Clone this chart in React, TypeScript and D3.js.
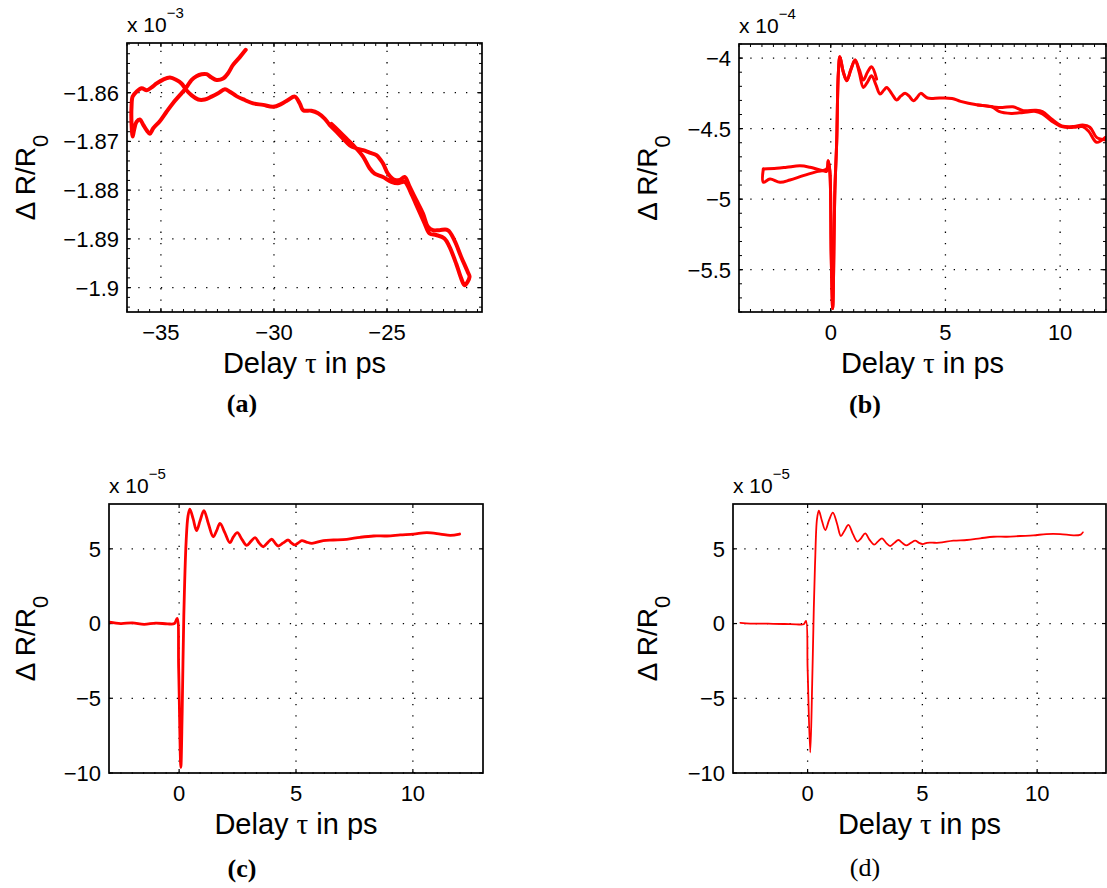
import React from "react";
import * as d3 from "d3";

// ---------- Panel (a) : ×1e-3 ----------
const aX = [-31.25,-31.51,-31.81,-32.03,-32.25,-32.54,-32.76,-32.98,-33.20,-33.43,-33.65,-33.87,-34.16,-34.46,-34.75,-35.04,-35.34,-35.49,-35.63,-35.78,-35.93,-36.08,-36.19,-36.25,
  -36.30,-36.30,-36.25,-36.08,-35.85,-35.63,-35.41,-35.19,-34.90,-34.60,-34.31,-34.09,-33.87,-33.65,-33.35,-33.06,-32.76,-32.47,-32.17,-31.95,-31.66,-31.29,-30.92,-30.48,-30.04,-29.67,-29.38,-29.08,-28.86,-28.71,-28.35,-28.05,-27.76,-27.54,-27.24,-26.95,-26.65,-26.36,
  -26.06,-25.77,-25.47,-25.18,-24.96,-24.66,-24.44,-24.22,-24.00,-23.71,-23.41,-23.19,-22.97,-22.68,-22.31,-22.02,-21.72,-21.43,-21.35,
  -21.57,-21.72,-21.94,-22.24,-22.46,-22.83,-23.12,-23.34,-23.63,-23.93,-24.22,-24.52,-24.81,-25.18,-25.55,-25.77,-26.06,-26.43,-26.80,-27.17,-27.46];
const aY = [-1.8512,-1.8527,-1.8543,-1.8560,-1.8571,-1.8574,-1.8569,-1.8562,-1.8562,-1.8566,-1.8574,-1.8589,-1.8605,-1.8621,-1.8639,-1.8658,-1.8673,-1.8684,-1.8677,-1.8666,-1.8655,-1.8660,-1.8677,-1.8690,
  -1.8663,-1.8629,-1.8608,-1.8598,-1.8591,-1.8595,-1.8589,-1.8581,-1.8573,-1.8569,-1.8574,-1.8581,-1.8595,-1.8605,-1.8614,-1.8614,-1.8608,-1.8601,-1.8593,-1.8598,-1.8607,-1.8615,-1.8622,-1.8625,-1.8629,-1.8623,-1.8615,-1.8608,-1.8622,-1.8636,-1.8637,-1.8642,-1.8653,-1.8666,-1.8680,-1.8694,-1.8708,-1.8714,
  -1.8718,-1.8723,-1.8728,-1.8745,-1.8766,-1.8779,-1.8779,-1.8773,-1.8793,-1.8820,-1.8848,-1.8875,-1.8882,-1.8882,-1.8882,-1.8903,-1.8937,-1.8968,-1.8978,
  -1.8995,-1.8981,-1.8951,-1.8916,-1.8899,-1.8892,-1.8889,-1.8868,-1.8838,-1.8807,-1.8783,-1.8786,-1.8783,-1.8773,-1.8766,-1.8755,-1.8731,-1.8711,-1.8694,-1.8677,-1.8664];

// ---------- Panel (b) : ×1e-4 ----------
const b1X = [-2.94,-2.94,-2.65,-2.21,-1.78,-1.20,-0.61,-0.18,-0.11,-0.04,0.02,0.085,0.18,0.26,0.33,0.40,0.55,0.70,0.88,1.06,1.24,1.42,1.60,1.78,1.97,2.15,2.30,2.44,2.65,2.87,3.05,3.24,3.42,3.60,3.76,3.92,4.22,4.75,5.29,5.66,6.42,7.03,7.33,7.87,8.40,8.93,9.23,9.61,10.07,10.60,10.98,11.25,11.59,11.97];
const b1Y = [-4.786,-4.880,-4.857,-4.880,-4.864,-4.833,-4.805,-4.786,-4.727,-4.80,-5.40,-5.776,-4.94,-4.59,-4.11,-3.99,-4.10,-4.16,-4.08,-4.014,-4.10,-4.208,-4.17,-4.125,-4.19,-4.255,-4.23,-4.208,-4.25,-4.297,-4.27,-4.25,-4.27,-4.302,-4.28,-4.25,-4.283,-4.283,-4.286,-4.307,-4.333,-4.345,-4.378,-4.392,-4.385,-4.378,-4.396,-4.444,-4.486,-4.491,-4.486,-4.52,-4.597,-4.562];
const b2X = [-2.94,-2.36,-1.92,-1.34,-0.905,-0.47,-0.18,-0.11,-0.04,0.02,0.085,0.18,0.26,0.33,0.40,0.55,0.70,0.88,1.06,1.24,1.42,1.60,1.78,2.0];
const b2Y = [-4.786,-4.781,-4.774,-4.764,-4.774,-4.793,-4.802,-4.727,-4.80,-5.40,-5.776,-4.94,-4.59,-4.11,-3.99,-4.10,-4.16,-4.08,-4.014,-4.08,-4.156,-4.10,-4.062,-4.149];
const b3X = [6.42,7.03,7.49,7.94,8.40,8.93,9.23,9.61,10.07,10.60,10.98,11.30,11.59,11.97];
const b3Y = [-4.333,-4.345,-4.350,-4.345,-4.373,-4.370,-4.380,-4.430,-4.480,-4.485,-4.475,-4.490,-4.562,-4.580];

// ---------- Panel (c) : ×1e-5 ----------
const cX = [-2.98,-2.5,-2.0,-1.5,-1.0,-0.5,-0.2,-0.085,-0.02,0.073,0.13,0.2,0.3,0.38,0.459,0.6,0.746,0.9,1.06,1.25,1.46,1.6,1.75,1.95,2.17,2.32,2.49,2.7,2.89,3.07,3.25,3.42,3.60,3.78,3.96,4.1,4.24,4.45,4.67,4.8,4.95,5.1,5.25,5.45,5.68,6.17,6.6,7.17,7.74,8.32,8.89,9.46,10.03,10.6,11.17,11.6,12.0];
const cY = [0.1,0.0,0.05,-0.05,0.03,-0.02,0.0,0.34,-3.0,-9.62,-6.0,0.5,5.5,7.2,7.65,7.0,6.22,6.9,7.56,6.7,5.81,6.2,6.71,6.1,5.41,5.8,6.08,5.6,5.23,5.5,5.75,5.4,5.14,5.4,5.64,5.4,5.19,5.4,5.59,5.4,5.26,5.4,5.55,5.45,5.37,5.55,5.59,5.64,5.77,5.86,5.86,5.93,5.99,6.08,5.99,5.9,5.99];

// ---------- Panel (d) : ×1e-5 ----------
const dX = [-2.93,-2.5,-2.0,-1.5,-1.0,-0.5,-0.17,-0.07,0.0,0.115,0.2,0.27,0.33,0.41,0.49,0.62,0.77,0.93,1.10,1.28,1.45,1.6,1.78,1.97,2.17,2.33,2.51,2.7,2.90,3.07,3.24,3.42,3.60,3.78,3.96,4.12,4.29,4.5,4.69,4.85,5.02,5.2,5.41,5.74,6.35,6.94,7.52,8.1,8.68,9.26,9.84,10.4,11.0,11.58,11.9,11.99];
const dY = [0.05,0.0,0.0,-0.02,-0.03,-0.05,-0.05,0.18,-3.0,-8.62,-4.0,1.0,4.25,7.0,7.56,6.9,6.26,6.9,7.42,6.7,5.86,6.2,6.6,6.0,5.48,5.7,6.04,5.6,5.28,5.5,5.7,5.4,5.19,5.4,5.59,5.4,5.23,5.4,5.55,5.4,5.32,5.4,5.41,5.41,5.55,5.59,5.70,5.81,5.81,5.86,5.9,5.99,5.99,5.9,5.95,6.1];

// ---------- Ticks & labels ----------
const aXTicks = [-35, -30, -25];
const aYTicks = [-1.9, -1.89, -1.88, -1.87, -1.86];
const bXTicks = [0, 5, 10];
const bYTicks = [-5.5, -5, -4.5, -4];
const cdXTicks = [0, 5, 10];
const cdYTicks = [-10, -5, 0, 5];
const exponents = ["−3", "−4", "−5", "−5"];
const captions = ["(a)", "(b)", "(c)", "(d)"];
const xLabelParts = ["Delay ", "τ", " in ps"];
const yLabelParts = ["Δ R/R", "0"];

const SANS = "'Liberation Sans', Arial, Helvetica, sans-serif";
const SERIF = "'Liberation Serif', 'Times New Roman', serif";
const RED = "#ff0000";

type Trace = { x: number[]; y: number[] };
type Spec = {
  id: string;
  left: number; top: number; right: number; bottom: number;
  xDomain: [number, number]; yDomain: [number, number];
  xTicks: number[]; yTicks: number[];
  xMinor?: number; yMinor?: number;
  traces: Trace[];
  lineWidth: number;
  exponent: string;
  yLabelX: number;
  caption: string; captionX: number; captionY: number; captionBold: boolean;
};

const fmt = (v: number) => String(v).replace("-", "−");

function minorValues(domain: [number, number], step: number) {
  const k0 = Math.ceil(domain[0] / step - 1e-9);
  const k1 = Math.floor(domain[1] / step + 1e-9);
  return d3.range(k0, k1 + 1).map((k) => k * step);
}

function Panel({ s }: { s: Spec }) {
  const x = d3.scaleLinear().domain(s.xDomain).range([s.left, s.right]);
  const y = d3.scaleLinear().domain(s.yDomain).range([s.bottom, s.top]);
  const line = d3
    .line<[number, number]>()
    .x((d) => x(d[0]))
    .y((d) => y(d[1]))
    .curve(d3.curveCatmullRom.alpha(0.5));
  const w = s.right - s.left;
  const h = s.bottom - s.top;
  const tl = 4;
  const xMinor = s.xMinor ? minorValues(s.xDomain, s.xMinor) : [];
  const yMinor = s.yMinor ? minorValues(s.yDomain, s.yMinor) : [];
  return (
    <g>
      <defs>
        <clipPath id={`clip-${s.id}`}>
          <rect x={s.left} y={s.top} width={w} height={h} />
        </clipPath>
      </defs>
      <rect x={s.left} y={s.top} width={w} height={h} fill="#fff" />
      {s.xTicks.map((t) => (
        <line key={`gx${t}`} x1={x(t)} x2={x(t)} y1={s.bottom} y2={s.top} stroke="#000" strokeWidth={1.3} strokeDasharray="1.3 10" />
      ))}
      {s.yTicks.map((t) => (
        <line key={`gy${t}`} x1={s.left} x2={s.right} y1={y(t)} y2={y(t)} stroke="#000" strokeWidth={1.3} strokeDasharray="1.3 10" />
      ))}
      {xMinor.map((t, i) => (
        <g key={`mx${i}`}>
          <line x1={x(t)} x2={x(t)} y1={s.bottom} y2={s.bottom - 3} stroke="#000" strokeWidth={1} />
          <line x1={x(t)} x2={x(t)} y1={s.top} y2={s.top + 3} stroke="#000" strokeWidth={1} />
        </g>
      ))}
      {yMinor.map((t, i) => (
        <g key={`my${i}`}>
          <line x1={s.left} x2={s.left + 3} y1={y(t)} y2={y(t)} stroke="#000" strokeWidth={1} />
          <line x1={s.right} x2={s.right - 3} y1={y(t)} y2={y(t)} stroke="#000" strokeWidth={1} />
        </g>
      ))}
      {s.xTicks.map((t) => (
        <g key={`tx${t}`}>
          <line x1={x(t)} x2={x(t)} y1={s.bottom} y2={s.bottom - tl} stroke="#000" strokeWidth={1.2} />
          <line x1={x(t)} x2={x(t)} y1={s.top} y2={s.top + tl} stroke="#000" strokeWidth={1.2} />
        </g>
      ))}
      {s.yTicks.map((t) => (
        <g key={`ty${t}`}>
          <line x1={s.left} x2={s.left + tl} y1={y(t)} y2={y(t)} stroke="#000" strokeWidth={1.2} />
          <line x1={s.right} x2={s.right - tl} y1={y(t)} y2={y(t)} stroke="#000" strokeWidth={1.2} />
        </g>
      ))}
      <g clipPath={`url(#clip-${s.id})`}>
        {s.traces.map((tr, i) => (
          <path
            key={i}
            d={line(tr.x.map((v, j) => [v, tr.y[j]] as [number, number])) || ""}
            fill="none"
            stroke={RED}
            strokeWidth={s.lineWidth}
            strokeLinejoin="round"
            strokeLinecap="round"
          />
        ))}
      </g>
      <rect x={s.left} y={s.top} width={w} height={h} fill="none" stroke="#000" strokeWidth={1.7} />
      {s.xTicks.map((t) => (
        <text key={`lx${t}`} x={x(t)} y={s.bottom + 28} textAnchor="middle" fontFamily={SANS} fontSize={22}>
          {fmt(t)}
        </text>
      ))}
      {s.yTicks.map((t) => (
        <text key={`ly${t}`} x={s.left - 8} y={y(t)} dy="0.36em" textAnchor="end" fontFamily={SANS} fontSize={22}>
          {fmt(t)}
        </text>
      ))}
      <text x={s.left} y={s.top - 11} fontFamily={SANS} fontSize={21}>
        x 10
        <tspan dy={-14} fontSize={15}>{s.exponent}</tspan>
      </text>
      <text x={(s.left + s.right) / 2} y={s.bottom + 61} textAnchor="middle" fontFamily={SANS} fontSize={29}>
        {xLabelParts[0]}
        <tspan fontFamily={SERIF}>{xLabelParts[1]}</tspan>
        {xLabelParts[2]}
      </text>
      <text
        transform={`translate(${s.yLabelX},${(s.top + s.bottom) / 2}) rotate(-90)`}
        textAnchor="middle"
        fontFamily={SANS}
        fontSize={28}
      >
        {yLabelParts[0]}
        <tspan dy={13} fontSize={22}>{yLabelParts[1]}</tspan>
      </text>
      <text
        x={s.captionX}
        y={s.captionY}
        textAnchor="middle"
        fontFamily={SERIF}
        fontWeight={s.captionBold ? "bold" : "normal"}
        fontSize={26}
      >
        {s.caption}
      </text>
    </g>
  );
}

export default function App() {
  const specs: Spec[] = [
    {
      id: "a", left: 127, top: 43, right: 482, bottom: 312,
      xDomain: [-36.5, -20.8], yDomain: [-1.905, -1.8498],
      xTicks: aXTicks, yTicks: aYTicks, xMinor: 0.5, yMinor: 0.002,
      traces: [{ x: aX, y: aY }], lineWidth: 4,
      exponent: exponents[0], yLabelX: 35,
      caption: captions[0], captionX: 242, captionY: 412, captionBold: true,
    },
    {
      id: "b", left: 739, top: 44, right: 1106, bottom: 312,
      xDomain: [-4, 12], yDomain: [-5.8, -3.9],
      xTicks: bXTicks, yTicks: bYTicks, xMinor: 0.5, yMinor: 0.1,
      traces: [{ x: b1X, y: b1Y }, { x: b2X, y: b2Y }, { x: b3X, y: b3Y }], lineWidth: 3,
      exponent: exponents[1], yLabelX: 657,
      caption: captions[1], captionX: 865, captionY: 413, captionBold: true,
    },
    {
      id: "c", left: 109, top: 504, right: 483, bottom: 773,
      xDomain: [-3, 13], yDomain: [-10, 8],
      xTicks: cdXTicks, yTicks: cdYTicks,
      traces: [{ x: cX, y: cY }], lineWidth: 2.8,
      exponent: exponents[2], yLabelX: 35,
      caption: captions[2], captionX: 242, captionY: 877, captionBold: true,
    },
    {
      id: "d", left: 733, top: 504, right: 1106, bottom: 773,
      xDomain: [-3.25, 13], yDomain: [-10, 8],
      xTicks: cdXTicks, yTicks: cdYTicks,
      traces: [{ x: dX, y: dY }], lineWidth: 1.8,
      exponent: exponents[3], yLabelX: 657,
      caption: captions[3], captionX: 865, captionY: 876, captionBold: false,
    },
  ];
  return (
    <svg
      width={1107}
      height={888}
      viewBox="0 0 1107 888"
      style={{ position: "absolute", left: 0, top: 0, background: "#fff" }}
    >
      <rect x={0} y={0} width={1107} height={888} fill="#fff" />
      {specs.map((s) => (
        <Panel key={s.id} s={s} />
      ))}
    </svg>
  );
}
